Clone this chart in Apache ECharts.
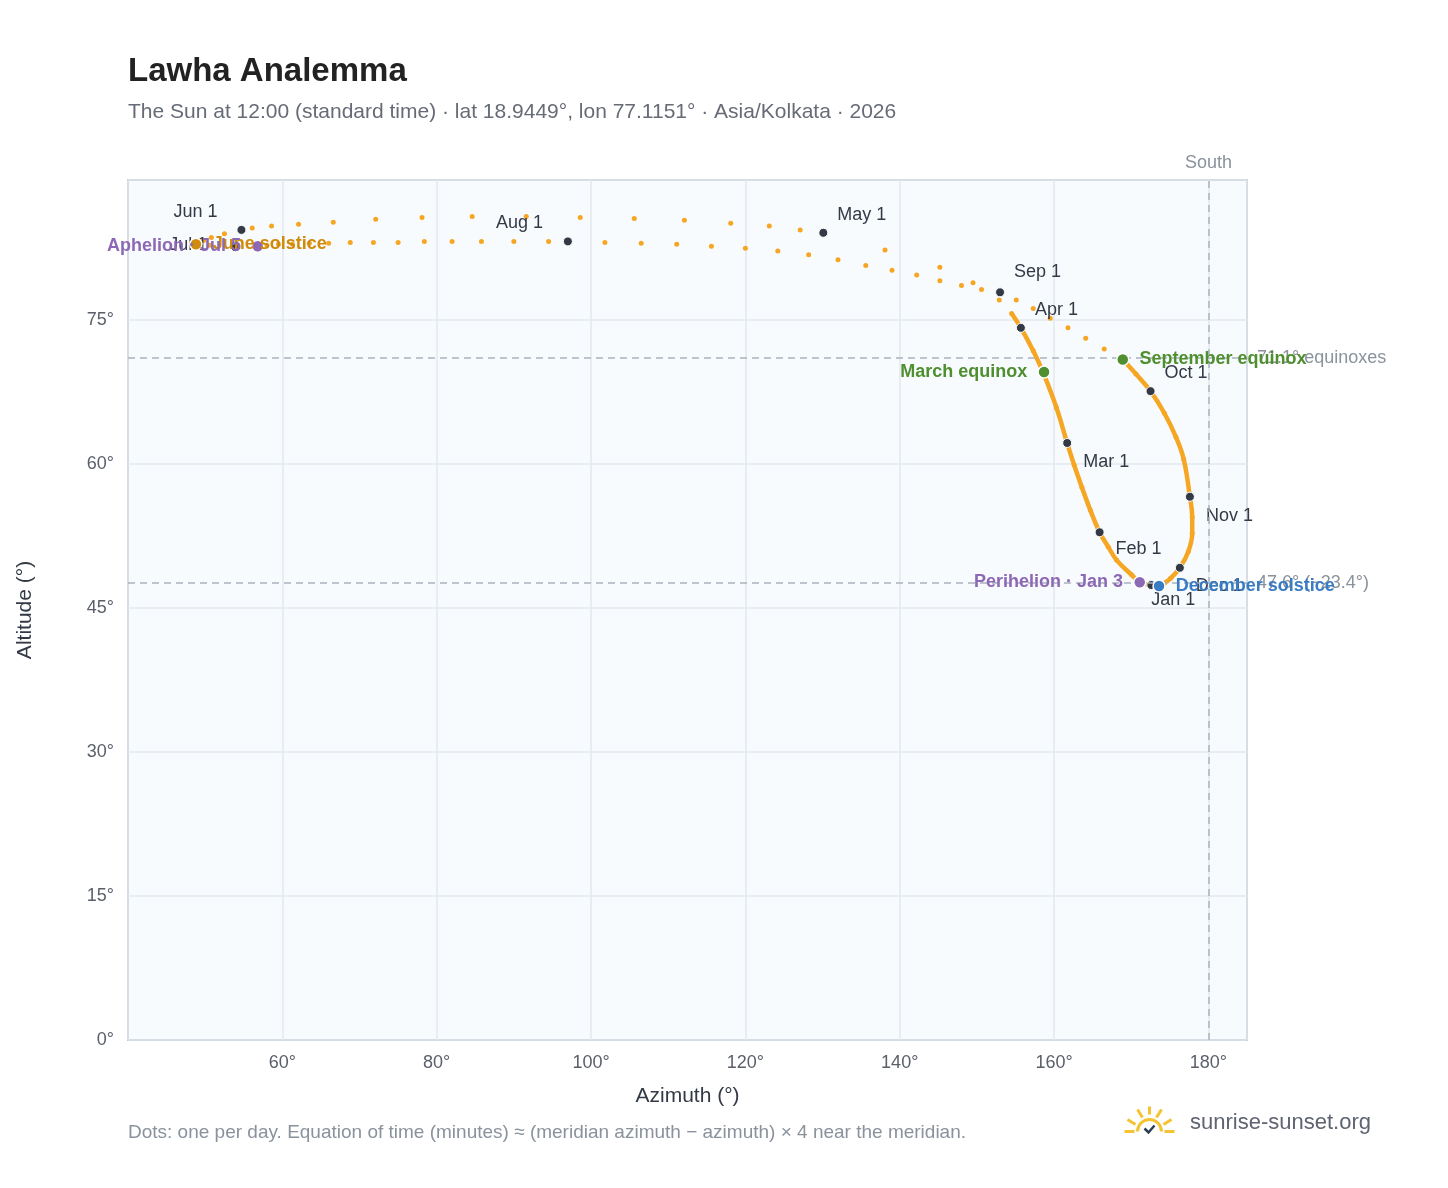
<!DOCTYPE html>
<html>
<head>
<meta charset="utf-8">
<script src="https://cdn.jsdelivr.net/npm/echarts@6/dist/echarts.min.js"></script>
<style>
  html, body { margin: 0; padding: 0; background: #ffffff; }
  #main { width: 1448px; height: 1188px; }
</style>
</head>
<body>
<div id="main"></div>
<script>
// noon sun positions (2026, one sample every few days)
var dates = [
  '01-01','01-03','01-08','01-16','01-24','02-01','02-08','02-15','02-22','03-01',
  '03-10','03-20','03-26','04-01','04-05','04-10','04-15','04-20','04-25','05-01',
  '05-03','05-05','05-07','05-09','05-11','05-13','05-15','05-17','05-19','05-21',
  '05-23','05-25','05-27','05-29','06-01','06-05','06-09','06-13','06-17','06-21',
  '06-25','07-01','07-05','07-07','07-09','07-11','07-13','07-15','07-17','07-19',
  '07-21','07-23','07-25','07-27','07-29','07-31','08-01','08-03','08-05','08-07',
  '08-09','08-11','08-13','08-15','08-17','08-19','08-21','08-23','08-25','08-27',
  '08-29','09-01','09-04','09-07','09-10','09-13','09-16','09-19','09-22','09-26',
  '10-01','10-08','10-15','10-22','11-01','11-08','11-15','11-22','12-01','12-10',
  '12-15','12-21','12-27'
];
var azimuth = [
  172.6,171.1,170.0,168.1,167.0,165.9,164.7,163.6,162.6,161.7,
  160.3,158.6,157.3,155.7,154.5,152.9,149.5,145.2,138.1,130.1,
  127.1,123.1,118.1,112.1,105.6,98.6,91.6,84.6,78.1,72.1,
  66.6,62.1,58.6,56.1,54.7,52.5,50.8,49.8,49.2,48.8,
  50.6,53.9,56.8,58.0,59.5,61.3,63.5,66.0,68.8,71.8,
  75.0,78.4,82.0,85.8,90.0,94.5,97.0,101.8,106.5,111.1,
  115.6,120.0,124.2,128.2,132.0,135.6,139.0,142.2,145.2,148.0,
  150.6,153.0,155.1,157.3,159.5,161.8,164.1,166.5,168.9,170.6,
  172.5,174.3,175.8,176.8,177.6,177.9,177.9,177.4,176.3,175.1,
  174.3,173.6,173.1
];
var altitude = [
  47.4,47.7,48.5,50.0,51.4,52.9,55.2,57.6,59.9,62.2,
  65.9,69.5,71.8,74.2,75.7,77.1,78.9,80.5,82.3,84.1,
  84.4,84.8,85.1,85.4,85.6,85.7,85.8,85.8,85.7,85.5,
  85.2,85.0,84.8,84.6,84.4,84.0,83.6,83.3,83.1,82.9,
  82.8,82.6,82.7,82.8,82.9,82.9,83.0,83.0,83.1,83.1,
  83.1,83.2,83.2,83.2,83.2,83.2,83.2,83.1,83.0,82.9,
  82.7,82.5,82.2,81.8,81.3,80.7,80.2,79.7,79.1,78.6,
  78.2,77.9,77.1,76.2,75.2,74.2,73.1,72.0,70.9,69.4,
  67.6,65.3,62.8,60.5,56.6,54.5,52.8,50.9,49.2,48.1,
  47.6,47.3,47.3
];
var monthNames = ['Jan','Feb','Mar','Apr','May','Jun','Jul','Aug','Sep','Oct','Nov','Dec'];

// special points: name, azimuth, altitude
var eventNames = ['March equinox','September equinox','June solstice','December solstice','Perihelion · Jan 3','Aphelion · Jul 5'];
var eventAz = [158.7, 168.9, 48.8, 173.6, 171.1, 56.8];
var eventAlt = [69.6, 70.9, 82.9, 47.3, 47.7, 82.7];
var eventColors = ['#4f8f2f','#4f8f2f','#d08a0c','#3a7cc3','#8d68b5','#8d68b5'];
var eventSide = ['left','right','right','right','left','left'];

var equinoxAlt = 71.1;
var winterAlt = 47.6;
var southAz = 180;

var allPts = dates.map(function (d, i) { return [azimuth[i], altitude[i]]; });
// solid-looking stretch where the daily dots overlap (late Sep -> early Apr)
var solid = [];
dates.forEach(function (d, i) { if (d >= '09-22') solid.push([azimuth[i], altitude[i]]); });
dates.forEach(function (d, i) { if (d <= '04-05') solid.push([azimuth[i], altitude[i]]); });

var labelOffsets = {
  Jan: [0, 15], Feb: [16, 17], Mar: [16, 19], Apr: [14, -18], May: [14, -18], Jun: [-68, -18],
  Jul: [-66, -2], Aug: [-72, -18], Sep: [14, -20], Oct: [14, -18], Nov: [16, 19], Dec: [16, 18]
};
var months = [];
dates.forEach(function (d, i) {
  if (d.slice(3) === '01') {
    var m = monthNames[parseInt(d.slice(0, 2), 10) - 1];
    months.push({
      value: [azimuth[i], altitude[i]],
      label: { show: true, formatter: m + ' 1', position: 'inside', offset: labelOffsets[m],
               align: 'left', color: '#333a45', fontSize: 18 }
    });
  }
});

var events = eventNames.map(function (n, i) {
  return {
    value: [eventAz[i], eventAlt[i]],
    itemStyle: { color: eventColors[i], borderColor: '#fff', borderWidth: 1.5, opacity: 1 },
    label: { show: true, formatter: n, position: eventSide[i], distance: 10,
             color: eventColors[i], fontSize: 18, fontWeight: 'bold' }
  };
});

var chart = echarts.init(document.getElementById('main'));
chart.setOption({
  backgroundColor: '#ffffff',
  animation: false,
  textStyle: { fontFamily: 'Liberation Sans, Arial, sans-serif' },
  title: {
    text: 'Lawha Analemma',
    subtext: 'The Sun at 12:00 (standard time) · lat 18.9449°, lon 77.1151° · Asia/Kolkata · 2026',
    left: 123, top: 50, itemGap: 14,
    textStyle: { fontSize: 33, fontWeight: 'bold', color: '#222222' },
    subtextStyle: { fontSize: 21, color: '#666b76' }
  },
  grid: { left: 128, top: 180, right: 201, bottom: 148, show: true,
          backgroundColor: '#f8fbfe', borderColor: '#9aa5b1', borderWidth: 1.5 },
  xAxis: {
    type: 'value', min: 40, max: 185, interval: 20,
    name: 'Azimuth (°)', nameLocation: 'middle', nameGap: 46,
    nameTextStyle: { fontSize: 21, color: '#333a45' },
    axisLine: { show: false }, axisTick: { show: false },
    axisLabel: { fontSize: 18, color: '#5a5f6a', margin: 14,
                 formatter: function (v) { return v % 20 === 0 && v >= 60 ? v + '°' : ''; } },
    splitLine: { lineStyle: { color: '#e3e8ef', width: 1.5 } }
  },
  yAxis: {
    type: 'value', min: 0, max: 89.6, interval: 15,
    name: 'Altitude (°)', nameLocation: 'middle', nameGap: 92, nameRotate: 90,
    nameTextStyle: { fontSize: 21, color: '#333a45' },
    axisLine: { show: false }, axisTick: { show: false },
    axisLabel: { fontSize: 18, color: '#5a5f6a', margin: 14,
                 formatter: function (v) { return v % 15 === 0 ? v + '°' : ''; } },
    splitLine: { lineStyle: { color: '#e3e8ef', width: 1.5 } }
  },
  series: [
    {
      type: 'line', data: solid, smooth: 0.4, showSymbol: false, z: 2,
      lineStyle: { color: '#f5a623', width: 4.5 }, silent: true
    },
    {
      type: 'scatter', data: allPts, symbolSize: 5, z: 3,
      itemStyle: { color: '#f5a623', opacity: 1 },
      markLine: {
        silent: true, symbol: 'none',
        lineStyle: { color: '#a9b2be', type: [7, 5], width: 1.5 },
        data: [
          { yAxis: equinoxAlt, label: { formatter: '71.1° equinoxes', position: 'end', color: '#8a929c', fontSize: 18, distance: 10 } },
          { yAxis: winterAlt, label: { formatter: '47.6° (−23.4°)', position: 'end', color: '#8a929c', fontSize: 18, distance: 10 } },
          { xAxis: southAz, label: { formatter: 'South', position: 'end', color: '#8a929c', fontSize: 18, distance: 8 } }
        ]
      }
    },
    {
      type: 'scatter', data: months, symbolSize: 9, z: 4,
      itemStyle: { color: '#333a45', borderColor: '#fff', borderWidth: 1, opacity: 1 }
    },
    {
      type: 'scatter', data: events, symbolSize: 12, z: 5,
      itemStyle: { opacity: 1 }
    }
  ],
  graphic: [
    { type: 'text', left: 128, top: 1123,
      style: { text: 'Dots: one per day. Equation of time (minutes) ≈ (meridian azimuth − azimuth) × 4 near the meridian.',
               fontSize: 19, fill: '#8a929c' } },
    { type: 'group', left: 1122, top: 1104, children: [
      { type: 'line', shape: { x1: 0, y1: 25, x2: 10, y2: 25 }, style: { stroke: '#f5c332', lineWidth: 3 } },
      { type: 'line', shape: { x1: 40, y1: 25, x2: 50, y2: 25 }, style: { stroke: '#f5c332', lineWidth: 3 } },
      { type: 'line', shape: { x1: 3, y1: 13, x2: 11, y2: 18 }, style: { stroke: '#f5c332', lineWidth: 3 } },
      { type: 'line', shape: { x1: 47, y1: 13, x2: 39, y2: 18 }, style: { stroke: '#f5c332', lineWidth: 3 } },
      { type: 'line', shape: { x1: 13, y1: 3, x2: 18, y2: 11 }, style: { stroke: '#f5c332', lineWidth: 3 } },
      { type: 'line', shape: { x1: 37, y1: 3, x2: 32, y2: 11 }, style: { stroke: '#f5c332', lineWidth: 3 } },
      { type: 'line', shape: { x1: 25, y1: 0, x2: 25, y2: 8 }, style: { stroke: '#f5c332', lineWidth: 3 } },
      { type: 'arc', shape: { cx: 25, cy: 25, r: 12, startAngle: Math.PI, endAngle: 2 * Math.PI }, style: { stroke: '#f5c332', lineWidth: 3, fill: null } },
      { type: 'polyline', shape: { points: [[20, 22], [24, 26], [30, 19]] }, style: { stroke: '#2c3e57', lineWidth: 2.5, fill: null } }
    ] },
    { type: 'text', left: 1190, top: 1112,
      style: { text: 'sunrise-sunset.org', fontSize: 22, fill: '#5f6372' } }
  ]
});
</script>
</body>
</html>
